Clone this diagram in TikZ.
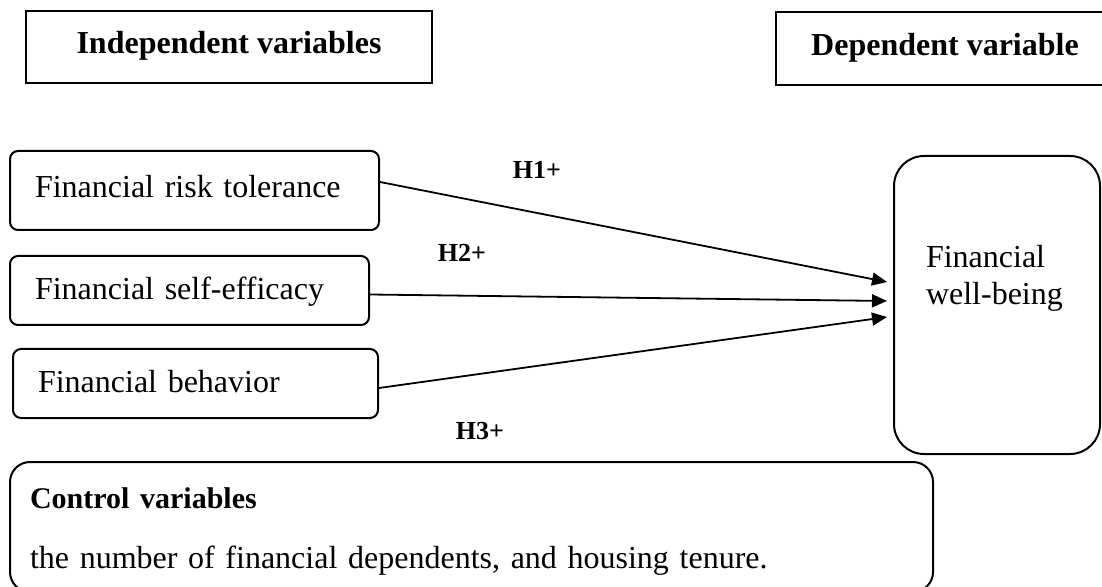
\documentclass[tikz,border=0pt]{standalone}
\usepackage{fontspec}
\setmainfont{Liberation Serif}
\usetikzlibrary{arrows.meta, positioning}
\tikzset{
  fwb/head/.style  = {draw, line width=1pt, font=\fontsize{16}{19}\selectfont\bfseries,
                      text height=11pt, text depth=4pt, inner sep=0pt},
  fwb/var/.style   = {draw, rounded corners=4pt, line width=1pt, align=left,
                      font=\fontsize{16}{19}\selectfont, inner xsep=12.5pt, inner ysep=0pt,
                      text height=11pt, text depth=2pt},
  fwb/dep/.style   = {fwb/var, rounded corners=15pt, inner xsep=16pt,
                      font=\fontsize{16}{18.5}\selectfont},
  fwb/ctrl/.style  = {draw, rounded corners=10pt, line width=1pt, align=left,
                      font=\fontsize{16}{30}\selectfont, inner xsep=10pt, inner ysep=0pt,
                      text height=10pt, text depth=29pt},
  fwb/arrow/.style = {-{Triangle[length=7.5pt, width=6.5pt]}, line width=0.9pt},
  fwb/hyp/.style   = {font=\fontsize{13}{15}\selectfont\bfseries, inner sep=0pt},
}
\begin{document}
\begin{tikzpicture}[x=0.5pt, y=-0.5pt]
      \useasboundingbox (0,0) rectangle (1102,587);
      \clip (0,0) rectangle (1102,587);
      % column headings
      \node[fwb/head, minimum width=203pt, minimum height=36pt] (indep) at (229,47)
            {Independent variables};
      \node[fwb/head, minimum width=169pt, minimum height=36.5pt] (dep) at (945,48.5)
            {Dependent variable};
      % independent variables
      \node[fwb/var, minimum width=184.5pt, minimum height=39.5pt, text width=159.5pt,
            text depth=4pt] (risk) at (194.5,190.5) {Financial risk tolerance};
      \node[fwb/var, minimum width=179.5pt, minimum height=34.5pt, text width=154.5pt]
            (eff) at (189.5,290.5) {Financial self-efficacy};
      \node[fwb/var, minimum width=182.5pt, minimum height=34.5pt, text width=157.5pt]
            (beh) at (195.5,383.5) {Financial behavior};
      % dependent variable
      \node[fwb/dep, minimum width=103pt, minimum height=149pt, text width=71pt,
            text depth=48pt] (wb) at (997,305) {Financial\\well-being};
      % control variables
      \node[fwb/ctrl, minimum width=461.5pt, minimum height=65pt, text width=441.5pt]
            (ctrl) at (471.5,527)
            {{\fontsize{15}{30}\selectfont\bfseries Control variables}\\
             the number of financial dependents, and housing tenure.};
      % hypotheses
      \draw[fwb/arrow] ([yshift=4.25pt]risk.east) -- ([xshift=-3pt, yshift=11.5pt]wb.west);
      \draw[fwb/arrow] ([yshift=-2pt]eff.east) -- ([xshift=-3pt, yshift=2pt]wb.west);
      \draw[fwb/arrow] ([yshift=-2.25pt]beh.east) -- ([xshift=-3pt, yshift=-6pt]wb.west);
      \node[fwb/hyp] (h1) at (537,170) {H1+};
      \node[fwb/hyp] (h2) at (462,253) {H2+};
      \node[fwb/hyp] (h3) at (480,431) {H3+};
\end{tikzpicture}
\end{document}
